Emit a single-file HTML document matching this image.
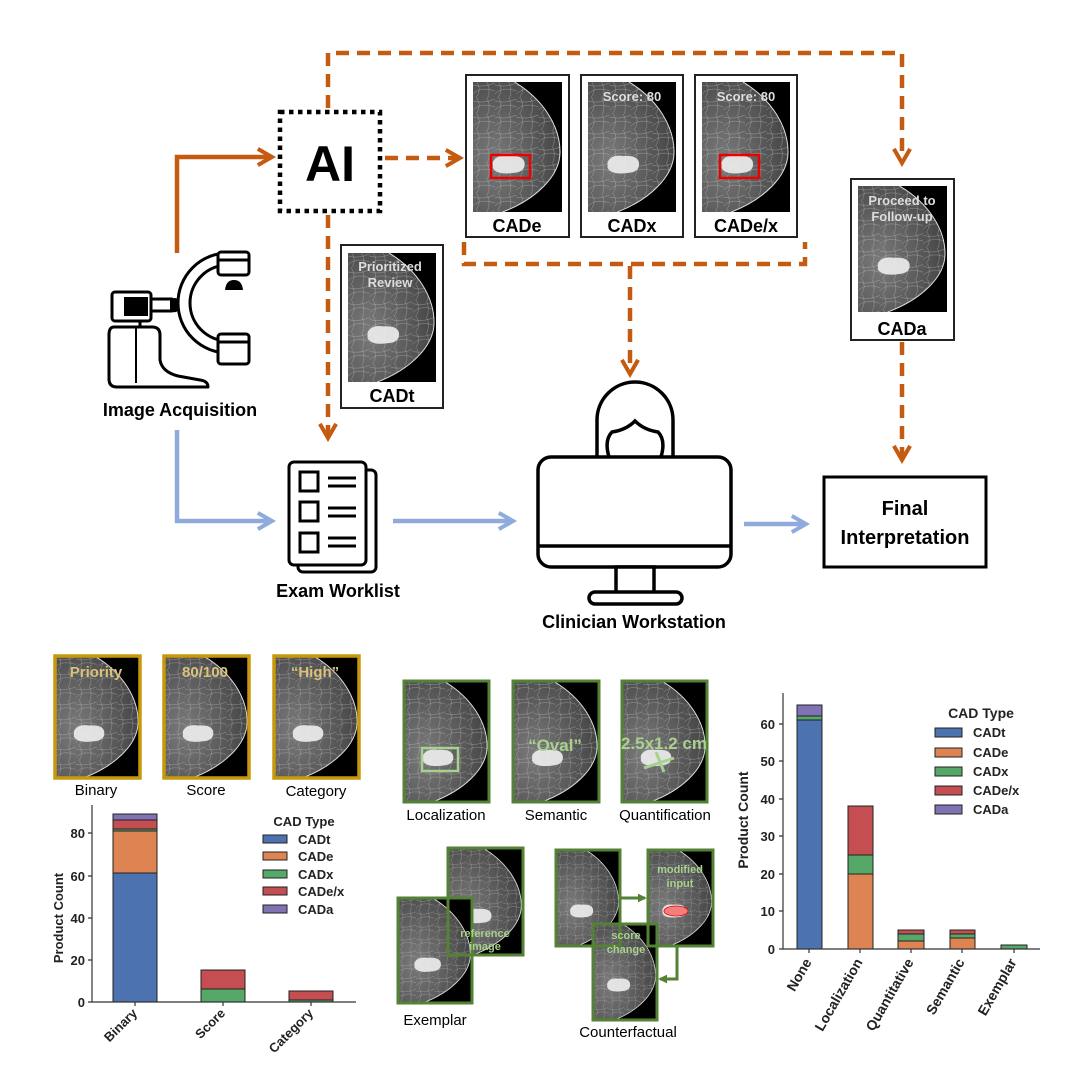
<!DOCTYPE html>
<html><head><meta charset="utf-8"><style>
html,body{margin:0;padding:0;background:#fff;width:1080px;height:1080px;overflow:hidden}
svg{display:block}
text{font-family:"Liberation Sans",Arial,sans-serif}
.b{font-weight:bold}
</style></head><body>
<svg width="1080" height="1080" viewBox="0 0 1080 1080" xmlns="http://www.w3.org/2000/svg">
<defs>
<radialGradient id="tg" cx="0.25" cy="0.6" r="0.9">
<stop offset="0" stop-color="#7a7a7a"/><stop offset="0.6" stop-color="#555"/><stop offset="1" stop-color="#3a3a3a"/>
</radialGradient>
<pattern id="fib" width="22" height="16" patternUnits="userSpaceOnUse">
<path d="M0,12 Q8,4 22,9 M4,0 Q9,8 3,16 M14,0 Q18,7 15,16 M0,3 Q10,6 22,1" stroke="#d0d0d0" stroke-width="0.5" fill="none" opacity="0.55"/>
</pattern>
<symbol id="mam" viewBox="0 0 90 130" preserveAspectRatio="none">
<rect width="90" height="130" fill="#000"/>
<path d="M0,0 L42,0 C72,18 88,45 88,70 C88,95 62,118 30,130 L0,130 Z" fill="url(#tg)"/>
<path d="M0,0 L42,0 C72,18 88,45 88,70 C88,95 62,118 30,130 L0,130 Z" fill="url(#fib)"/>
<path d="M42,0 C72,18 88,45 88,70 C88,95 62,118 30,130" stroke="#e0e0e0" stroke-width="1" fill="none"/>
<path d="M20,80 Q24,72 36,74 Q50,73 52,80 Q54,90 40,91 Q24,93 20,86Z" fill="#eee" opacity="0.9" stroke="none"/>
</symbol>
<marker id="ao" viewBox="0 0 10 10" refX="8" refY="5" markerWidth="4.5" markerHeight="4.5" orient="auto"><path d="M1,1 L8,5 L1,9" fill="none" stroke="#c55a11" stroke-width="2"/></marker>
<marker id="ab" viewBox="0 0 10 10" refX="8" refY="5" markerWidth="4.5" markerHeight="4.5" orient="auto"><path d="M1,1 L8,5 L1,9" fill="none" stroke="#8faadc" stroke-width="2"/></marker>
<marker id="ag" viewBox="0 0 10 10" refX="8" refY="5" markerWidth="3" markerHeight="3" orient="auto"><path d="M0,0 L10,5 L0,10Z" fill="#548235"/></marker>
</defs>

<g fill="none" stroke="#c55a11" stroke-width="4.5">
<path d="M177,253 V157 H272" marker-end="url(#ao)"/>
<g stroke-dasharray="13,8">
<path d="M328,108 V53 H902 V163" marker-end="url(#ao)"/>
<path d="M385,158 H460" marker-end="url(#ao)"/>
<path d="M328,215 V438" marker-end="url(#ao)"/>
<path d="M464,242 V264 H805 V242"/>
<path d="M630,266 V374" marker-end="url(#ao)"/>
<path d="M902,342 V460" marker-end="url(#ao)"/>
</g>
</g>
<g fill="none" stroke="#8faadc" stroke-width="4.5">
<path d="M177,430 V521 H272" marker-end="url(#ab)"/>
<path d="M393,521 H513" marker-end="url(#ab)"/>
<path d="M744,524 H806" marker-end="url(#ab)"/>
</g>

<rect x="280" y="112" width="100" height="99" fill="#fff" stroke="#000" stroke-width="4.5" stroke-dasharray="4.5,4.5"/>
<text x="330" y="181" text-anchor="middle" class="b" font-size="50">AI</text>

<g stroke="#222" stroke-width="2" fill="#fff">
<rect x="466" y="75" width="103" height="162"/>
<rect x="581" y="75" width="102" height="162"/>
<rect x="695" y="75" width="102" height="162"/>
<rect x="341" y="245" width="102" height="163"/>
<rect x="851" y="179" width="103" height="161"/>
</g>
<use href="#mam" x="473" y="82" width="89" height="130"/>
<use href="#mam" x="588" y="82" width="88" height="130"/>
<use href="#mam" x="702" y="82" width="88" height="130"/>
<use href="#mam" x="348" y="253" width="88" height="129"/>
<use href="#mam" x="858" y="186" width="89" height="126"/>
<rect x="491" y="155" width="39" height="23" fill="none" stroke="#e00" stroke-width="2.5"/>
<rect x="720" y="155" width="39" height="23" fill="none" stroke="#e00" stroke-width="2.5"/>
<g fill="#ddd" class="b" font-size="13" text-anchor="middle">
<text x="632" y="101">Score: 80</text>
<text x="746" y="101">Score: 80</text>
<text x="390" y="271">Prioritized</text>
<text x="390" y="287">Review</text>
<text x="902" y="205">Proceed to</text>
<text x="902" y="221">Follow-up</text>
</g>
<g class="b" font-size="18" text-anchor="middle">
<text x="517" y="232">CADe</text>
<text x="632" y="232">CADx</text>
<text x="746" y="232">CADe/x</text>
<text x="392" y="402">CADt</text>
<text x="902" y="335">CADa</text>
</g>

<g fill="#fff" stroke="#000" stroke-width="3" stroke-linejoin="round">
<path d="M228,253 A50,50 0 0 0 228,353 L228,341 A38,38 0 0 1 228,265 Z"/>
<rect x="218" y="252" width="31" height="23" rx="3"/>
<line x1="218" y1="260" x2="249" y2="260"/>
<rect x="218" y="334" width="31" height="30" rx="3"/>
<line x1="218" y1="342" x2="249" y2="342"/>
<rect x="150" y="299" width="22" height="12"/>
<rect x="112" y="292" width="39" height="29" rx="3"/>
<path d="M114,327 H152 Q160,327 160,335 V360 Q162,372 178,376 L200,380 Q208,381 208,387 H117 Q109,387 109,379 V335 Q109,327 114,327Z"/>
<line x1="136" y1="327" x2="136" y2="383" stroke-width="2"/>
<line x1="140" y1="321" x2="140" y2="327"/>
</g>
<rect x="124" y="297" width="24" height="19" fill="#000"/>
<path d="M225,290 Q226,280 234,280 Q242,280 243,290Z" fill="#000"/>
<path d="M170,300 Q176,296 178,300 V310 Q176,314 170,311Z" fill="#000"/>
<text x="180" y="416" text-anchor="middle" class="b" font-size="18">Image Acquisition</text>

<g fill="#fff" stroke="#000" stroke-width="3">
<rect x="298" y="470" width="78" height="102" rx="5"/>
<rect x="289" y="462" width="77" height="103" rx="5"/>
<rect x="300" y="472" width="18" height="19"/>
<rect x="300" y="502" width="18" height="19"/>
<rect x="300" y="533" width="18" height="19"/>
<path d="M328,478 H356 M328,486 H356 M328,508 H356 M328,516 H356 M328,538 H356 M328,546 H356"/>
</g>
<text x="338" y="597" text-anchor="middle" class="b" font-size="18">Exam Worklist</text>

<g fill="#fff" stroke="#000" stroke-width="3.5">
<path d="M597,460 V420 A38,38 0 0 1 673,420 V460"/>
<path d="M609,457 Q604,440 612,432 Q626,430 635,421 Q644,430 658,432 Q666,440 661,457"/>
<rect x="538" y="457" width="193" height="110" rx="13"/>
<line x1="538" y1="546" x2="731" y2="546"/>
<rect x="616" y="567" width="38" height="26"/>
<rect x="589" y="592" width="93" height="12" rx="6"/>
</g>
<text x="634" y="628" text-anchor="middle" class="b" font-size="18">Clinician Workstation</text>

<rect x="824" y="477" width="162" height="90" fill="#fff" stroke="#000" stroke-width="3"/>
<text x="905" y="515" text-anchor="middle" class="b" font-size="20">Final</text>
<text x="905" y="544" text-anchor="middle" class="b" font-size="20">Interpretation</text>

<use href="#mam" x="55" y="656" width="85" height="122"/>
<use href="#mam" x="164" y="656" width="85" height="122"/>
<use href="#mam" x="274" y="656" width="85" height="122"/>
<g fill="none" stroke="#c8980b" stroke-width="3.5">
<rect x="55" y="656" width="85" height="122"/><rect x="164" y="656" width="85" height="122"/><rect x="274" y="656" width="85" height="122"/>
</g>
<g fill="#d9c27a" class="b" font-size="15" text-anchor="middle">
<text x="96" y="677">Priority</text><text x="205" y="677">80/100</text><text x="315" y="677">“High”</text>
</g>
<g font-size="15" text-anchor="middle">
<text x="96" y="795">Binary</text><text x="206" y="795">Score</text><text x="316" y="796">Category</text>
</g>

<g stroke="#222" stroke-width="1">
<rect x="113" y="873" width="44" height="129" fill="#4c72b0"/>
<rect x="113" y="831" width="44" height="42" fill="#dd8452"/>
<rect x="113" y="829" width="44" height="2" fill="#55a868"/>
<rect x="113" y="820" width="44" height="9" fill="#c44e52"/>
<rect x="113" y="814" width="44" height="6" fill="#8172b3"/>
<rect x="201" y="989" width="44" height="13" fill="#55a868"/>
<rect x="201" y="970" width="44" height="19" fill="#c44e52"/>
<rect x="289" y="1000" width="44" height="2" fill="#55a868"/>
<rect x="289" y="991" width="44" height="9" fill="#c44e52"/>
</g>
<path d="M92,805 V1002 H356" fill="none" stroke="#333" stroke-width="1.2"/>
<g stroke="#333" stroke-width="1.2">
<path d="M88,1002H92 M88,960H92 M88,918H92 M88,876H92 M88,833H92 M135,1002V1006 M223,1002V1006 M311,1002V1006"/>
</g>
<g class="b" font-size="13" text-anchor="end" fill="#222">
<text x="85" y="1007">0</text><text x="85" y="965">20</text><text x="85" y="923">40</text><text x="85" y="881">60</text><text x="85" y="838">80</text>
</g>
<text transform="translate(63,918) rotate(-90)" text-anchor="middle" class="b" font-size="13" fill="#222">Product Count</text>
<g class="b" font-size="13" text-anchor="end" fill="#222">
<text transform="translate(138,1014) rotate(-45)">Binary</text>
<text transform="translate(226,1014) rotate(-45)">Score</text>
<text transform="translate(314,1014) rotate(-45)">Category</text>
</g>
<text x="304" y="826" text-anchor="middle" class="b" font-size="13" fill="#222">CAD Type</text>
<g stroke="#222" stroke-width="1">
<rect x="263" y="835" width="24" height="8" fill="#4c72b0"/>
<rect x="263" y="852" width="24" height="8" fill="#dd8452"/>
<rect x="263" y="870" width="24" height="8" fill="#55a868"/>
<rect x="263" y="887" width="24" height="8" fill="#c44e52"/>
<rect x="263" y="905" width="24" height="8" fill="#8172b3"/>
</g>
<g class="b" font-size="13" fill="#222">
<text x="298" y="844">CADt</text><text x="298" y="861">CADe</text><text x="298" y="879">CADx</text><text x="298" y="896">CADe/x</text><text x="298" y="914">CADa</text>
</g>

<use href="#mam" x="404" y="681" width="85" height="121"/>
<use href="#mam" x="513" y="681" width="86" height="121"/>
<use href="#mam" x="622" y="681" width="85" height="121"/>
<use href="#mam" x="448" y="848" width="75" height="107"/>
<use href="#mam" x="398" y="898" width="74" height="105"/>
<use href="#mam" x="556" y="850" width="64" height="96"/>
<use href="#mam" x="648" y="850" width="65" height="96"/>
<use href="#mam" x="593" y="924" width="64" height="96"/>
<g fill="none" stroke="#548235" stroke-width="3">
<rect x="404" y="681" width="85" height="121"/><rect x="513" y="681" width="86" height="121"/><rect x="622" y="681" width="85" height="121"/>
<rect x="448" y="848" width="75" height="107"/><rect x="398" y="898" width="74" height="105"/>
<rect x="556" y="850" width="64" height="96"/><rect x="648" y="850" width="65" height="96"/><rect x="593" y="924" width="64" height="96"/>
</g>
<path d="M620,898 H645" stroke="#548235" stroke-width="3" fill="none" marker-end="url(#ag)"/>
<path d="M677,946 V979 H660" stroke="#548235" stroke-width="3" fill="none" marker-end="url(#ag)"/>
<rect x="422" y="748" width="36" height="23" fill="none" stroke="#a9d18e" stroke-width="2.5"/>
<path d="M644,768 L674,758 M656,752 L664,772" stroke="#a9d18e" stroke-width="3"/>
<ellipse cx="676" cy="911" rx="12" ry="5" fill="#f08080" stroke="#e00" stroke-width="0.8"/>
<g fill="#a9d18e" class="b" text-anchor="middle">
<text x="555" y="751" font-size="17">“Oval”</text>
<text x="664" y="749" font-size="17">2.5x1.2 cm</text>
<text x="485" y="937" font-size="11">reference</text><text x="485" y="950" font-size="11">image</text>
<text x="680" y="873" font-size="11">modified</text><text x="680" y="887" font-size="11">input</text>
<text x="626" y="939" font-size="11">score</text><text x="626" y="953" font-size="11">change</text>
</g>
<g font-size="15" text-anchor="middle">
<text x="446" y="820">Localization</text><text x="556" y="820">Semantic</text><text x="665" y="820">Quantification</text>
<text x="435" y="1025">Exemplar</text><text x="628" y="1037">Counterfactual</text>
</g>

<g stroke="#222" stroke-width="1">
<rect x="797" y="720" width="25" height="229" fill="#4c72b0"/>
<rect x="797" y="716" width="25" height="4" fill="#55a868"/>
<rect x="797" y="705" width="25" height="11" fill="#8172b3"/>
<rect x="848" y="874" width="25" height="75" fill="#dd8452"/>
<rect x="848" y="855" width="25" height="19" fill="#55a868"/>
<rect x="848" y="806" width="25" height="49" fill="#c44e52"/>
<rect x="898" y="941" width="26" height="8" fill="#dd8452"/>
<rect x="898" y="934" width="26" height="7" fill="#55a868"/>
<rect x="898" y="930" width="26" height="4" fill="#c44e52"/>
<rect x="950" y="938" width="25" height="11" fill="#dd8452"/>
<rect x="950" y="934" width="25" height="4" fill="#55a868"/>
<rect x="950" y="930" width="25" height="4" fill="#c44e52"/>
<rect x="1001" y="945" width="26" height="4" fill="#55a868"/>
</g>
<path d="M783,693 V949 H1040" fill="none" stroke="#333" stroke-width="1.2"/>
<g stroke="#333" stroke-width="1.2">
<path d="M779,949H783 M779,911H783 M779,874H783 M779,836H783 M779,799H783 M779,761H783 M779,724H783 M809,949V953 M860,949V953 M911,949V953 M962,949V953 M1014,949V953"/>
</g>
<g class="b" font-size="13" text-anchor="end" fill="#222">
<text x="775" y="954">0</text><text x="775" y="916">10</text><text x="775" y="879">20</text><text x="775" y="841">30</text><text x="775" y="804">40</text><text x="775" y="766">50</text><text x="775" y="729">60</text>
</g>
<text transform="translate(748,820) rotate(-90)" text-anchor="middle" class="b" font-size="14" fill="#222">Product Count</text>
<g class="b" font-size="14" text-anchor="end" fill="#222">
<text transform="translate(812,962) rotate(-60)">None</text>
<text transform="translate(863,962) rotate(-60)">Localization</text>
<text transform="translate(914,962) rotate(-60)">Quantitative</text>
<text transform="translate(965,962) rotate(-60)">Semantic</text>
<text transform="translate(1017,962) rotate(-60)">Exemplar</text>
</g>
<text x="981" y="718" text-anchor="middle" class="b" font-size="14" fill="#222">CAD Type</text>
<g stroke="#222" stroke-width="1">
<rect x="935" y="728" width="27" height="9" fill="#4c72b0"/>
<rect x="935" y="748" width="27" height="9" fill="#dd8452"/>
<rect x="935" y="767" width="27" height="9" fill="#55a868"/>
<rect x="935" y="786" width="27" height="9" fill="#c44e52"/>
<rect x="935" y="805" width="27" height="9" fill="#8172b3"/>
</g>
<g class="b" font-size="13" fill="#222">
<text x="973" y="737">CADt</text><text x="973" y="757">CADe</text><text x="973" y="776">CADx</text><text x="973" y="795">CADe/x</text><text x="973" y="814">CADa</text>
</g>
</svg>
</body></html>
